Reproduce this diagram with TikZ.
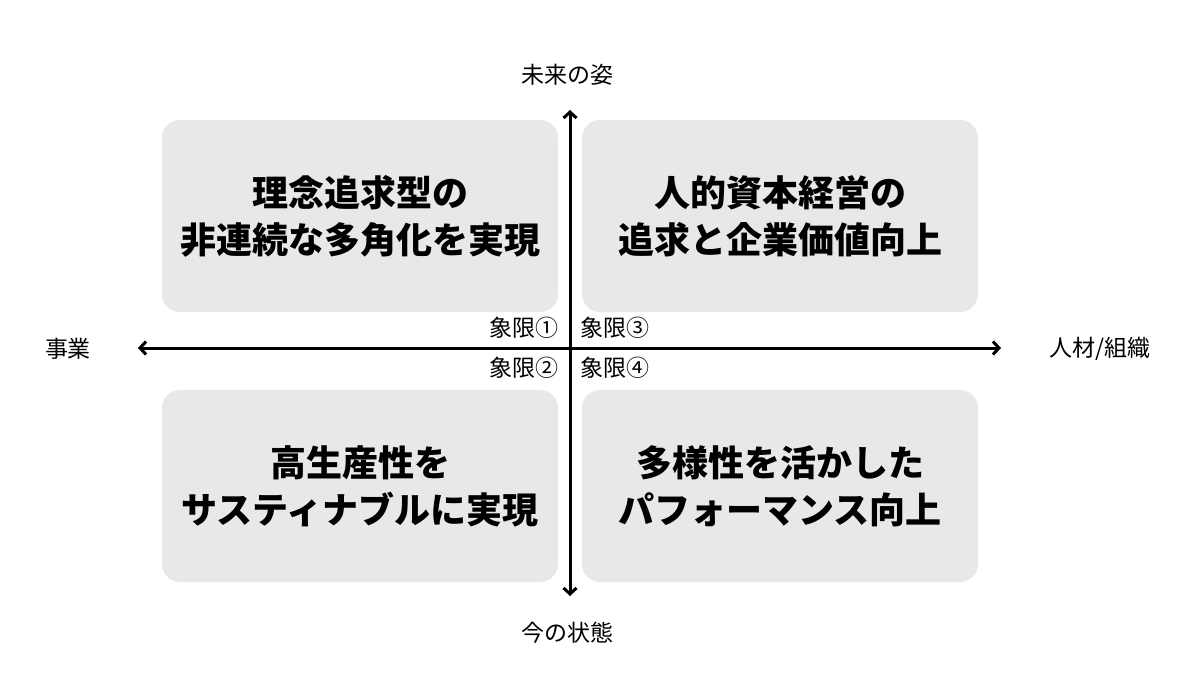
\documentclass[tikz,border=0pt]{standalone}
\usepackage{fontspec}
\setmainfont{Noto Sans CJK JP}
\usetikzlibrary{arrows.meta}
\tikzset{
  quad/.style={fill=black!9, rounded corners=18pt, minimum width=396pt, minimum height=192pt, align=center, font=\fontsize{36}{47}\selectfont\bfseries},
  axislabel/.style={font=\fontsize{23}{26}\selectfont},
  axis/.style={line width=3pt, {Straight Barb[length=6pt,width=13pt,line width=3pt]}-{Straight Barb[length=6pt,width=13pt,line width=3pt]}}
}
\begin{document}
\begin{tikzpicture}[x=1pt,y=-1pt]
\useasboundingbox (0,0) rectangle (1200,698);
%%%QUADRANTS
\node[quad] (q1) at (360,216) {理念追求型の\\非連続な多角化を実現};
\node[quad] (q3) at (780,216) {人的資本経営の\\追求と企業価値向上};
\node[quad] (q2) at (360,486) {高生産性を\\サスティナブルに実現};
\node[quad] (q4) at (780,486) {多様性を活かした\\パフォーマンス向上};
%%%AXES
\coordinate (top) at (570,110);
\coordinate (bottom) at (570,596);
\coordinate (left) at (138,348);
\coordinate (right) at (1001,348);
\draw[axis] (bottom) -- (top);
\draw[axis] (left) -- (right);
\node[axislabel] (future) at (567,75) {未来の姿};
\node[axislabel] (now) at (567,633) {今の状態};
\node[axislabel] (biz) at (68,349) {事業};
\node[axislabel] (hr) at (1100,349) {人材/組織};
\node[axislabel, anchor=east] (z1) at (562,328) {象限①};
\node[axislabel, anchor=west] (z3) at (577,328) {象限③};
\node[axislabel, anchor=east] (z2) at (562,368) {象限②};
\node[axislabel, anchor=west] (z4) at (577,368) {象限④};
\end{tikzpicture}
\end{document}
